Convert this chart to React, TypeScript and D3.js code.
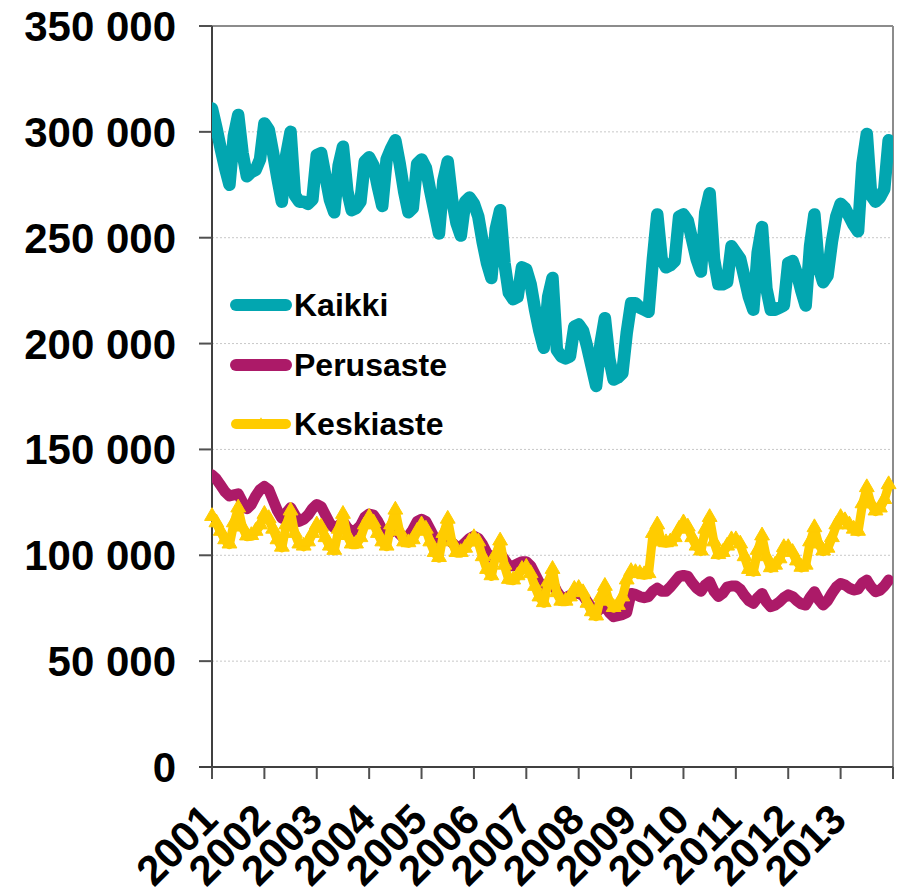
import React from "react";
import * as d3 from "d3";

// Monthly values Jan 2001 – Dec 2013, in thousands of persons
const kaikki: number[] = [
  311, 302, 292, 283, 275, 298, 308, 290, 279, 281, 282, 287,
  304, 301, 290, 278, 267, 289, 300, 270, 267, 267, 266, 268,
  289, 290, 279, 268, 262, 284, 293, 272, 263, 264, 267, 286,
  288, 284, 274, 265, 287, 292, 296, 285, 272, 262, 264, 285,
  287, 283, 272, 262, 252, 277, 286, 268, 257, 251, 267, 269,
  266, 260, 248, 238, 231, 254, 263, 238, 224, 221, 222, 236,
  235, 228, 216, 206, 198, 222, 231, 197, 194, 193, 194, 208,
  209, 206, 198, 189, 180, 200, 212, 193, 183, 184, 186, 205,
  219, 219, 217, 216, 215, 240, 261, 240, 236, 237, 239, 260,
  261, 258, 249, 240, 234, 262, 271, 240, 228, 228, 229, 246,
  243, 240, 231, 222, 216, 243, 255, 226, 216, 216, 217, 218,
  238, 239, 233, 225, 218, 246, 261, 236, 229, 232, 248, 260,
  266, 264, 260, 256, 253, 285, 299, 270, 267, 269, 273, 296,
];

const perusaste: number[] = [
  138, 136, 133, 130, 128, 128.5, 129, 125, 122, 124, 128, 131,
  132.5, 131, 126, 121, 117.5, 120, 122.5, 119, 116, 117, 119, 122,
  124, 123, 119, 115, 113, 114, 116, 113, 111, 112, 114, 118,
  119.5, 119, 116, 112, 110, 111, 113, 110, 108, 109, 112, 116,
  117, 116, 112, 108, 106, 107, 108, 106, 104, 104, 106, 108,
  109, 108, 105, 101, 99, 100, 101, 98, 95, 95, 96, 97,
  97, 95, 91, 87, 85, 86, 87, 83, 80, 80, 81, 82,
  82, 81, 78, 75, 73, 75, 76, 73, 71, 71.5, 72, 73,
  82, 81.5, 80.5, 80, 80.5, 83, 84.5, 83, 83, 85, 87.5, 90,
  90.5, 90, 87, 84.5, 83, 86, 87.5, 83, 80.5, 82, 85, 85.5,
  85.5, 84, 81, 78.5, 77.3, 80, 82, 78, 75.7, 76.5, 78, 80,
  81.3, 80.5, 78.5, 77, 76.5, 80, 82.8, 79, 76.5, 78.5, 82, 85,
  86.7, 86, 84.5, 83.6, 84, 87, 88.3, 85, 82.8, 83.5, 85.5, 88.3,
];

const keskiaste: number[] = [
  118, 115, 111, 107, 105, 115, 122, 113, 108.8, 109, 111, 114,
  119, 117, 112, 107, 103.5, 114, 120.6, 110, 105, 104, 106, 110,
  114, 113, 108, 104, 102, 112, 119, 109, 105, 105, 108, 114,
  117.6, 115, 110, 106, 104, 114, 121, 111, 106, 105.6, 107, 111,
  114, 112, 106, 101, 98.6, 110, 116.7, 106, 101, 101, 103, 106,
  108, 106, 99, 93, 90, 100, 106.4, 95, 88.3, 88, 90, 93,
  94, 91, 85, 80, 77.3, 87, 93, 82, 78, 78, 80, 83.6,
  84, 82, 77, 73, 71, 80, 85, 78, 75, 76, 80, 88,
  92, 91.5, 91, 90.5, 91, 110, 114, 106, 105.6, 106, 108, 112,
  115, 113, 108, 104, 101.7, 112, 117.5, 106, 100, 101, 104, 107,
  107, 105, 99, 93, 92, 102, 108.8, 99, 93.8, 95, 98, 103.3,
  103.3, 101, 97, 94, 95, 106, 112.7, 105, 101.7, 103, 108, 114,
  117.5, 116, 114, 112, 111, 124, 131.6, 124, 120.6, 122, 126, 133,
];

const years: number[] = [2001, 2002, 2003, 2004, 2005, 2006, 2007, 2008, 2009, 2010, 2011, 2012, 2013, 2014];
const yearLabels: string[] = ["2001", "2002", "2003", "2004", "2005", "2006", "2007", "2008", "2009", "2010", "2011", "2012", "2013", ""];
const yTicks: number[] = [0, 50, 100, 150, 200, 250, 300, 350];
const yTickLabels: string[] = ["0", "50 000", "100 000", "150 000", "200 000", "250 000", "300 000", "350 000"];
const seriesNames: string[] = ["Kaikki", "Perusaste", "Keskiaste"];

const COLORS = ["#02A6B0", "#AC1A68", "#FFCC00"];
const FONT = "'Liberation Sans', Arial, Helvetica, sans-serif";

const W = 899;
const H = 887;
const L = 212;
const R = 893;
const T = 26;
const B = 767;

export default function App() {
  const x = d3.scaleLinear().domain([0, 156]).range([L, R]);
  const xYear = d3.scaleLinear().domain([2001, 2014]).range([L, R]);
  const y = d3.scaleLinear().domain([0, 350]).range([B, T]);

  const line = d3
    .line<number>()
    .x((_, i) => x(i))
    .y((d) => y(d));

  const series = [kaikki, perusaste, keskiaste];
  const widths = [12.5, 11, 9];
  const tri = d3.symbol().type(d3.symbolTriangle).size(95)();
  const triSmall = d3.symbol().type(d3.symbolTriangle).size(60)();

  const legendY = [305, 365, 424];

  return (
    <svg
      width={W}
      height={H}
      style={{ position: "absolute", left: 0, top: 0, background: "#fff" }}
      fontFamily={FONT}
    >
      <defs>
        <clipPath id="plotClip">
          <rect x={L} y={T} width={R - L} height={B - T} />
        </clipPath>
      </defs>
      <rect x={0} y={0} width={W} height={H} fill="#fff" />

      {/* gridlines */}
      {yTicks
        .filter((t) => t > 0 && t < 350)
        .map((t) => (
          <line
            key={"g" + t}
            x1={L}
            x2={R}
            y1={y(t)}
            y2={y(t)}
            stroke="#C8C8C8"
            strokeWidth={1}
            strokeDasharray="2,2"
          />
        ))}

      {/* frame */}
      <line x1={L} x2={R} y1={T} y2={T} stroke="#8C8C8C" strokeWidth={2} />
      <line x1={R} x2={R} y1={T} y2={B} stroke="#8C8C8C" strokeWidth={2} />

      {/* y axis */}
      <line x1={L} x2={L} y1={T} y2={B + 12} stroke="#404040" strokeWidth={2} />
      {yTicks.map((t, i) => (
        <g key={"y" + t}>
          <line x1={L - 13} x2={L} y1={y(t)} y2={y(t)} stroke="#505050" strokeWidth={2} />
          <text
            x={176}
            y={y(t) + 15}
            textAnchor="end"
            fontSize={42}
            fontWeight="bold"
            fill="#000"
          >
            {yTickLabels[i]}
          </text>
        </g>
      ))}

      {/* x axis */}
      <line x1={L - 13} x2={R} y1={B} y2={B} stroke="#404040" strokeWidth={2} />
      {years.map((yr, i) => (
        <g key={"x" + yr}>
          <line x1={xYear(yr)} x2={xYear(yr)} y1={B} y2={B + 12} stroke="#505050" strokeWidth={2} />
          {yearLabels[i] && (
            <text
              transform={`translate(${xYear(yr) + 8},822) rotate(-45)`}
              textAnchor="end"
              fontSize={42}
              fontWeight="bold"
              fill="#000"
            >
              {yearLabels[i]}
            </text>
          )}
        </g>
      ))}

      {/* series */}
      <g clipPath="url(#plotClip)">
        {series.map((s, k) => (
          <path
            key={"s" + k}
            d={line(s) || ""}
            fill="none"
            stroke={COLORS[k]}
            strokeWidth={widths[k]}
            strokeLinejoin="round"
            strokeLinecap="round"
          />
        ))}
      </g>
      {keskiaste.map((v, i) => (
        <path
          key={"m" + i}
          d={tri || ""}
          transform={`translate(${x(i)},${y(v) - 1})`}
          fill={COLORS[2]}
          stroke={COLORS[2]}
          strokeWidth={1}
        />
      ))}

      {/* legend */}
      {seriesNames.map((name, k) => (
        <g key={"l" + k}>
          <line
            x1={236}
            x2={286}
            y1={legendY[k]}
            y2={legendY[k]}
            stroke={COLORS[k]}
            strokeWidth={k === 2 ? 10 : 12}
            strokeLinecap="round"
          />
          {k === 2 && (
            <path d={triSmall || ""} transform={`translate(261,${legendY[k]})`} fill={COLORS[2]} />
          )}
          <text
            x={294}
            y={legendY[k] + 11}
            fontSize={32}
            fontWeight="bold"
            fill="#000"
          >
            {name}
          </text>
        </g>
      ))}
    </svg>
  );
}
